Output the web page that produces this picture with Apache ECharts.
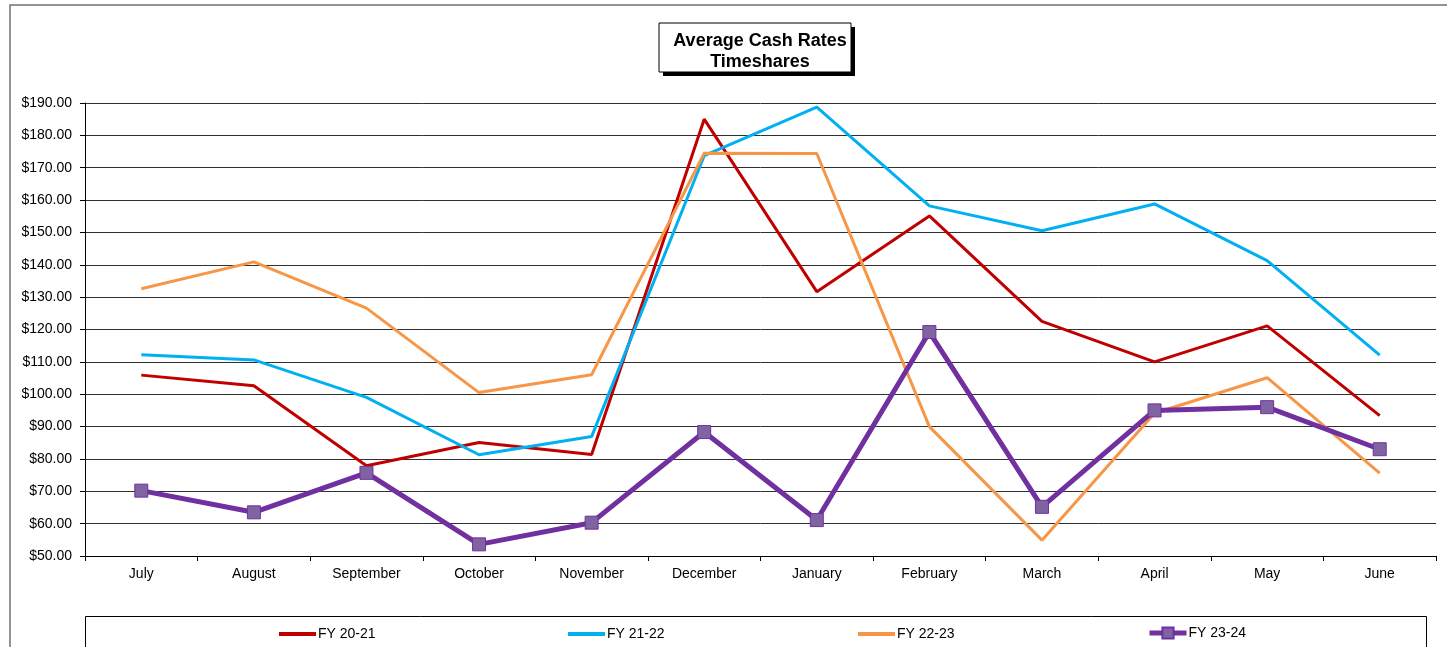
<!DOCTYPE html>
<html>
<head>
<meta charset="utf-8">
<title>Average Cash Rates Timeshares</title>
<script src="https://cdn.jsdelivr.net/npm/echarts@6/dist/echarts.min.js"></script>
<style>
  html, body { margin: 0; padding: 0; background: #fff; }
  #chart { width: 1447px; height: 647px; }
</style>
</head>
<body>
<div id="chart"></div>
<script>
  var months = ['July', 'August', 'September', 'October', 'November', 'December',
    'January', 'February', 'March', 'April', 'May', 'June'];
  var fy2021 = [105.9, 102.6, 77.9, 85.1, 81.4, 185.0, 131.7, 155.1, 122.5, 110.0, 121.1, 93.4];
  var fy2122 = [112.2, 110.6, 99.0, 81.3, 86.9, 173.7, 188.7, 158.2, 150.5, 158.8, 141.3, 112.1];
  var fy2223 = [132.6, 140.9, 126.6, 100.5, 106.0, 174.5, 174.4, 90.0, 54.9, 94.1, 105.1, 75.6];
  var fy2324 = [70.2, 63.5, 75.7, 53.6, 60.3, 88.3, 61.1, 119.2, 65.2, 95.0, 96.0, 83.0];
  var seriesNames = ['FY 20-21', 'FY 21-22', 'FY 22-23', 'FY 23-24'];

  var font = 'Arial, "Liberation Sans", sans-serif';

  // plain lines get a flat bar icon, the marker series keeps line + square
  function legendAt(name, left, plain) {
    var item = { name: name };
    if (plain) {
      item.icon = 'rect';
    } else {
      item.lineStyle = { width: 5 };
    }
    return {
      data: [item],
      left: left,
      top: plain ? 622 : 621,
      itemWidth: 37,
      itemHeight: plain ? 4 : 14,
      itemGap: 2,
      textStyle: { fontFamily: font, fontSize: 14, color: '#000', padding: [0, 0, 0, -3] }
    };
  }

  function plainLine(name, data, color) {
    return {
      name: name,
      type: 'line',
      data: data,
      symbol: 'none',
      lineStyle: { color: color, width: 3 },
      itemStyle: { color: color },
      z: 3
    };
  }

  var chart = echarts.init(document.getElementById('chart'));
  var option = {
    animation: false,
    backgroundColor: '#fff',
    textStyle: { fontFamily: font },
    graphic: [
      // outer chart frame
      {
        type: 'rect',
        shape: { x: 10, y: 5, width: 1460, height: 680 },
        style: { fill: 'none', stroke: '#707070', lineWidth: 1.5 },
        z: -10
      },
      // title box shadow and box
      {
        type: 'rect',
        shape: { x: 663, y: 27, width: 192, height: 49 },
        style: { fill: '#000' },
        z: 10
      },
      {
        type: 'rect',
        shape: { x: 659, y: 23, width: 192, height: 49 },
        style: { fill: '#fff', stroke: '#000', lineWidth: 1 },
        z: 11
      },
      // legend box
      {
        type: 'rect',
        shape: { x: 85.5, y: 616.5, width: 1341, height: 60 },
        style: { fill: 'none', stroke: '#000', lineWidth: 1 },
        z: -5
      }
    ],
    title: {
      text: 'Average Cash Rates\nTimeshares',
      left: 755,
      top: 26,
      textAlign: 'center',
      z: 20,
      textStyle: {
        fontFamily: font,
        fontSize: 18,
        fontWeight: 'bold',
        color: '#000',
        lineHeight: 21
      }
    },
    legend: [
      legendAt(seriesNames[0], 274, true),
      legendAt(seriesNames[1], 563, true),
      legendAt(seriesNames[2], 853, true),
      legendAt(seriesNames[3], 1142, false)
    ],
    grid: {
      left: 85,
      right: 11,
      top: 103,
      bottom: 91
    },
    xAxis: {
      type: 'category',
      data: months,
      boundaryGap: true,
      axisLine: { lineStyle: { color: '#000', width: 1 } },
      axisTick: { show: true, length: 5, lineStyle: { color: '#000' } },
      axisLabel: { color: '#000', fontFamily: font, fontSize: 14, margin: 11 },
      splitLine: { show: false }
    },
    yAxis: {
      type: 'value',
      min: 50,
      max: 190,
      interval: 10,
      axisLine: { show: true, lineStyle: { color: '#000', width: 1 } },
      axisTick: { show: true, length: 5, lineStyle: { color: '#000' } },
      axisLabel: {
        color: '#000',
        fontFamily: font,
        fontSize: 14,
        margin: 13,
        formatter: function (v) { return '$' + v.toFixed(2); }
      },
      splitLine: { show: true, lineStyle: { color: '#303030', width: 1 } }
    },
    series: [
      plainLine(seriesNames[0], fy2021, '#C00000'),
      plainLine(seriesNames[1], fy2122, '#00B0F0'),
      plainLine(seriesNames[2], fy2223, '#F79646'),
      {
        name: seriesNames[3],
        type: 'line',
        data: fy2324,
        symbol: 'rect',
        symbolSize: 13,
        showAllSymbol: true,
        lineStyle: { color: '#7030A0', width: 5 },
        itemStyle: { color: '#8064A2', borderColor: '#7030A0', borderWidth: 1 },
        z: 4
      }
    ]
  };
  chart.setOption(option);
</script>
</body>
</html>
